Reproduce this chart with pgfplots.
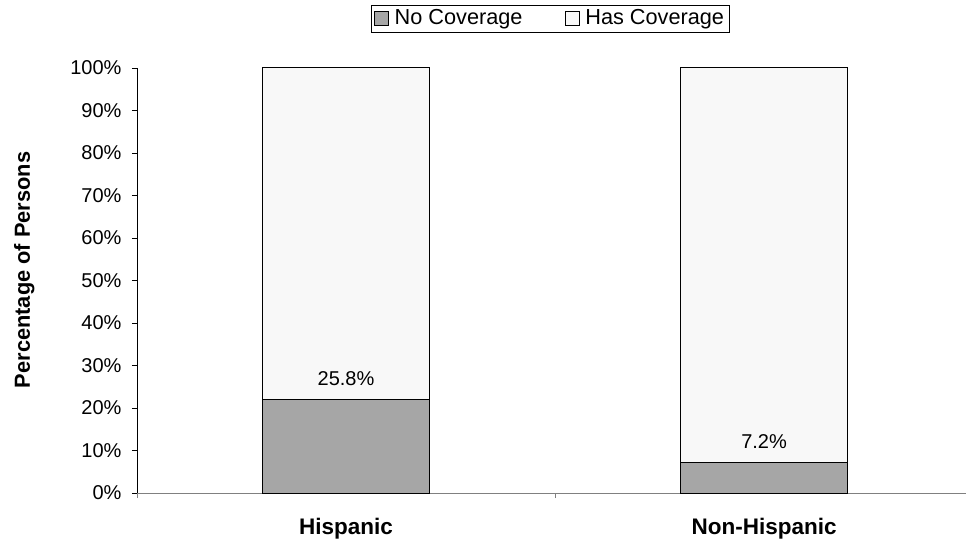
\documentclass[border=0pt]{standalone}
\usepackage{pgfplots}
\pgfplotsset{compat=1.18}
\usepackage{fontspec}
\setmainfont{Liberation Sans}
\definecolor{nocov}{HTML}{A6A6A6}
\definecolor{hascov}{HTML}{F8F8F8}
\definecolor{axgray}{HTML}{808080}
\begin{document}
\fontsize{19}{23}\selectfont
\begin{tikzpicture}
\useasboundingbox (0pt,0pt) rectangle (966pt,544pt);
\begin{axis}[
  at={(137pt,51pt)}, anchor=south west,
  scale only axis, width=829pt, height=425pt,
  ybar stacked, bar width=0.4,
  xmin=-0.5, xmax=1.483,
  ymin=0, ymax=100,
  axis x line*=bottom, axis y line*=left,
  x axis line style={draw=axgray, -},
  y axis line style={draw=black, -},
  xtick={-0.5,0.5}, xticklabels={},
  extra x ticks={0,1},
  extra x tick labels={\textbf{Hispanic},\textbf{Non-Hispanic}},
  extra x tick style={major tick length=0pt, xticklabel style={yshift=-19pt}},
  ytick={0,10,...,100},
  yticklabel={\pgfmathprintnumber{\tick}\%},
  /pgf/number format/assume math mode=true,
  tick align=outside, major tick length=5pt,
  tick style={draw=black, line width=0.8pt},
  xtick style={draw=axgray},
  yticklabel style={font=\fontsize{20}{24}\selectfont, xshift=-4pt},
  xticklabel style={font=\fontsize{22.5}{26}\selectfont},
  ylabel={\textbf{Percentage of Persons}},
  ylabel style={at={(rel axis cs:-0.136,0.525)}, anchor=center, font=\fontsize{21.8}{26}\selectfont},
  legend columns=2,
  legend style={at={(rel axis cs:0.4982,1.1165)}, anchor=center, draw=black, line width=0.8pt,
    font=\fontsize{21.7}{25}\selectfont, inner xsep=3pt, inner ysep=2.5pt,
    /tikz/every odd column/.append style={column sep=4pt},
    /tikz/every even column/.append style={column sep=40pt}},
  legend image code/.code={\draw[#1, line width=0.8pt] (0pt,-7pt) rectangle (14pt,7pt);},
  axis line style={line width=0.8pt},
]
\addplot+[fill=nocov, draw=black, line width=1pt] coordinates {(0,22.0) (1,7.1)};
\addplot+[fill=hascov, draw=black, line width=1pt] coordinates {(0,78.0) (1,92.9)};
\legend{No Coverage, Has Coverage}
\coordinate (labH) at (axis cs:0,26.8);
\coordinate (labN) at (axis cs:1,12.0);
\end{axis}
\node[font=\fontsize{20}{24}\selectfont, text=black] at (labH) {25.8\%};
\node[font=\fontsize{20}{24}\selectfont, text=black] at (labN) {7.2\%};
\end{tikzpicture}
\end{document}
